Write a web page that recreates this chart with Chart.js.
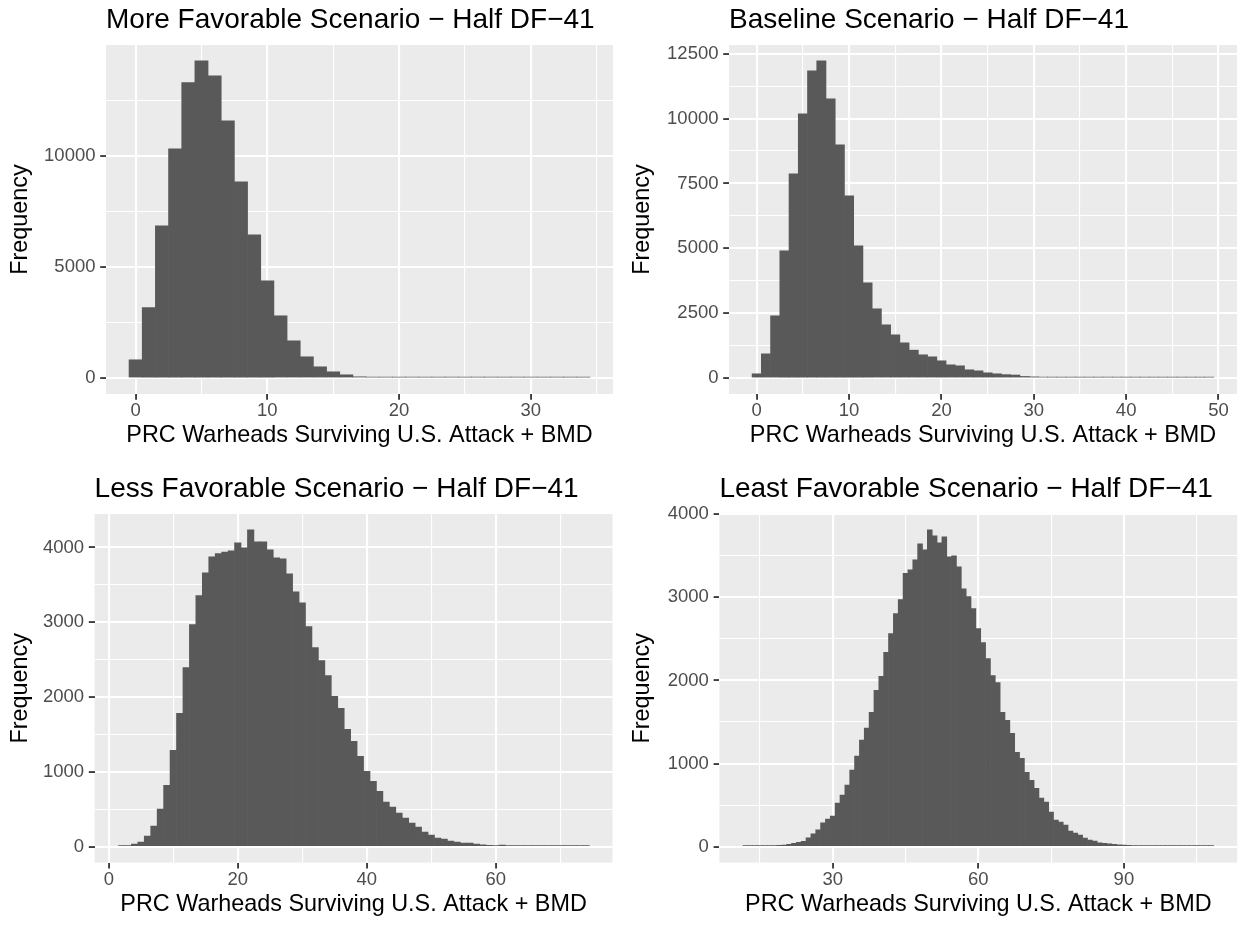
<!DOCTYPE html>
<html>
<head>
<meta charset="utf-8">
<script src="https://cdn.jsdelivr.net/npm/chart.js@4.4.1/dist/chart.umd.min.js"></script>
<style>
  html, body { margin: 0; padding: 0; background: #fff; }
  #wrap { position: relative; width: 1244px; height: 926px; }
  #wrap canvas { position: absolute; }
</style>
</head>
<body>
<div id="wrap">
  <canvas id="moreFav" width="622" height="463" style="left:0;top:0"></canvas>
  <canvas id="baseline" width="622" height="463" style="left:622px;top:0"></canvas>
  <canvas id="lessFav" width="622" height="457" style="left:0;top:469px"></canvas>
  <canvas id="leastFav" width="622" height="457" style="left:622px;top:469px"></canvas>
</div>
<script>
// histogram bins (warheads, bin centre) and counts
const binsMoreFav = [0,1,2,3,4,5,6,7,8,9,10,11,12,13,14,15,16,17,18,19,20,21,22,23,24,25,26,27,28,29,30,31,32,33,34];
const countsMoreFav = [825,3178,6852,10315,13298,14273,13598,11574,8831,6447,4378,2804,1679,960,510,285,150,60,30,20,
  12,8,6,5,4,3,2,2,1,1,1,1,1,1,1];

const binsBaseline = [0,1,2,3,4,5,6,7,8,9,10,11,12,13,14,15,16,17,18,19,20,21,22,23,24,25,26,27,28,29,30,31,32,33,34,
  35,36,37,38,39,40,41,42,43,44,45,46,47,48,49];
const countsBaseline = [167,937,2401,4905,7871,10182,11839,12224,10760,8988,7023,5098,3672,2671,2054,1669,1361,1079,899,822,
  668,514,475,321,282,205,167,135,120,65,50,40,28,22,17,13,10,8,6,5,4,3,3,2,2,1,1,1,1,1];

const binsLessFav = [2,3,4,5,6,7,8,9,10,11,12,13,14,15,16,17,18,19,20,21,22,23,24,25,26,27,28,29,30,31,32,33,34,35,36,37,
  38,39,40,41,42,43,44,45,46,47,48,49,50,51,52,53,54,55,56,57,58,59,60,61,62,63,64,65,66,67,68,69,70,71,72,73,74];
const countsLessFav = [8,10,36,62,142,276,502,822,1289,1782,2396,2969,3356,3662,3876,3920,3940,3956,4062,3996,
  4236,4076,4076,3969,3862,3849,3649,3409,3262,2942,2662,2489,2289,2009,1849,1569,1409,1209,1009,876,
  742,596,529,449,383,316,262,196,156,116,102,76,62,50,48,36,24,20,9,22,5,4,4,3,3,2,2,2,1,1,1,1,1];

const binsLeastFav = [12,13,14,15,16,17,18,19,20,21,22,23,24,25,26,27,28,29,30,31,32,33,34,35,36,37,38,39,40,41,42,43,44,45,
  46,47,48,49,50,51,52,53,54,55,56,57,58,59,60,61,62,63,64,65,66,67,68,69,70,71,72,73,74,75,76,77,78,79,80,81,82,83,84,85,
  86,87,88,89,90,91,92,93,94,95,96,97,98,99,100,101,102,103,104,105,106,107,108];
const countsLeastFav = [1,2,4,5,7,9,12,16,20,28,40,52,64,106,154,202,286,334,370,526,
  622,742,922,1090,1282,1426,1618,1882,2050,2338,2564,2804,2972,3290,3330,3452,3644,3572,3812,3740,
  3656,3728,3488,3500,3368,3104,3008,2864,2624,2456,2264,2060,1976,1616,1520,1364,1136,1064,896,800,
  704,584,536,416,320,296,260,188,164,140,104,80,68,46,42,34,30,22,20,18,12,10,8,7,6,5,4,3,3,2,2,1,1,1,1,1,1];

// axis ticks (labelled) and minor grid positions
const xTicksMoreFav = [0, 10, 20, 30];
const xMinorMoreFav = [5, 15, 25, 35];
const yTicksMoreFav = [0, 5000, 10000];
const yMinorMoreFav = [2500, 7500, 12500];

const xTicksBaseline = [0, 10, 20, 30, 40, 50];
const xMinorBaseline = [5, 15, 25, 35, 45];
const yTicksBaseline = [0, 2500, 5000, 7500, 10000, 12500];
const yMinorBaseline = [1250, 3750, 6250, 8750, 11250];

const xTicksLessFav = [0, 20, 40, 60];
const xMinorLessFav = [10, 30, 50, 70];
const yTicksLessFav = [0, 1000, 2000, 3000, 4000];
const yMinorLessFav = [500, 1500, 2500, 3500];

const xTicksLeastFav = [30, 60, 90];
const xMinorLeastFav = [15, 45, 75, 105];
const yTicksLeastFav = [0, 1000, 2000, 3000, 4000];
const yMinorLeastFav = [500, 1500, 2500, 3500];

const xLabel = 'PRC Warheads Surviving U.S. Attack + BMD';
const yLabel = 'Frequency';

Chart.defaults.font.family = '"Liberation Sans", Arial, Helvetica, sans-serif';

// grey ggplot panel behind the grid
const panelBg = {
  id: 'panelBg',
  beforeDraw(chart) {
    const { ctx, chartArea: a } = chart;
    ctx.save();
    ctx.fillStyle = '#EBEBEB';
    ctx.fillRect(a.left, a.top, a.right - a.left, a.bottom - a.top);
    ctx.restore();
  }
};

function makePanel(id, p) {
  const xMaj = v => p.xTicks.includes(v);
  const yMaj = v => p.yTicks.includes(v);
  const canvas = document.getElementById(id);
  const H = canvas.height;

  const tickSet = (major, minor) => s => {
    s.ticks = major.concat(minor).sort((a, b) => a - b).map(v => ({ value: v }));
  };

  new Chart(canvas, {
    type: 'bar',
    data: {
      datasets: [{
        data: p.bins.map((b, i) => ({ x: b, y: p.counts[i] })),
        backgroundColor: '#595959',
        borderWidth: 0,
        barPercentage: 1,
        categoryPercentage: 1,
        minBarLength: 1
      }]
    },
    options: {
      responsive: false,
      animation: false,
      devicePixelRatio: 1,
      layout: { padding: { left: 0, right: canvas.width - p.right, top: 0, bottom: 0 } },
      plugins: {
        legend: { display: false },
        tooltip: { enabled: false },
        title: {
          display: true,
          text: p.title,
          align: 'start',
          fullSize: false,
          color: '#000',
          font: { size: 28, weight: 'normal' },
          padding: { top: 3.2, bottom: 8.2 }
        }
      },
      scales: {
        x: {
          type: 'linear',
          min: p.xMin,
          max: p.xMax,
          bounds: 'data',
          offset: false,
          afterBuildTicks: tickSet(p.xTicks, p.xMinor),
          afterFit: s => { s.height = H - p.bottom; },
          ticks: {
            autoSkip: false,
            maxRotation: 0,
            padding: 0,
            color: '#4D4D4D',
            font: { size: 18.5 },
            callback: v => xMaj(v) ? String(v) : ''
          },
          grid: {
            offset: false,
            color: '#FFFFFF',
            lineWidth: c => (c.tick && xMaj(c.tick.value)) ? 2.1 : 1.1,
            tickLength: 5.8,
            tickWidth: 1.8,
            tickColor: c => (c.tick && xMaj(c.tick.value)) ? '#333333' : 'rgba(0,0,0,0)'
          },
          border: { display: false },
          title: {
            display: true,
            text: xLabel,
            color: '#000',
            font: { size: 23.4 },
            padding: { top: 0, bottom: H - 14 - 436 }
          }
        },
        y: {
          type: 'linear',
          min: p.yMin,
          max: p.yMax,
          bounds: 'data',
          afterBuildTicks: tickSet(p.yTicks, p.yMinor),
          afterFit: s => { s.width = p.left; },
          ticks: {
            autoSkip: false,
            padding: 4.7,
            color: '#4D4D4D',
            font: { size: 18.5 },
            callback: v => yMaj(v) ? String(v) : ''
          },
          grid: {
            color: '#FFFFFF',
            lineWidth: c => (c.tick && yMaj(c.tick.value)) ? 2.1 : 1.1,
            tickLength: 5.8,
            tickWidth: 1.8,
            tickColor: c => (c.tick && yMaj(c.tick.value)) ? '#333333' : 'rgba(0,0,0,0)'
          },
          border: { display: false },
          title: {
            display: true,
            text: yLabel,
            color: '#000',
            font: { size: 23.4 },
            padding: { top: 7, bottom: 0 }
          }
        }
      }
    },
    plugins: [panelBg]
  });
}

makePanel('moreFav', {
  title: 'More Favorable Scenario \u2212 Half DF\u221241',
  bins: binsMoreFav, counts: countsMoreFav,
  xTicks: xTicksMoreFav, xMinor: xMinorMoreFav, yTicks: yTicksMoreFav, yMinor: yMinorMoreFav,
  xMin: -2.25, xMax: 36.25, yMin: -714, yMax: 14987,
  left: 106, right: 613, bottom: 394
});

makePanel('baseline', {
  title: 'Baseline Scenario \u2212 Half DF\u221241',
  bins: binsBaseline, counts: countsBaseline,
  xTicks: xTicksBaseline, xMinor: xMinorBaseline, yTicks: yTicksBaseline, yMinor: yMinorBaseline,
  xMin: -3, xMax: 52, yMin: -611, yMax: 12835,
  left: 107, right: 615, bottom: 394
});

makePanel('lessFav', {
  title: 'Less Favorable Scenario \u2212 Half DF\u221241',
  bins: binsLessFav, counts: countsLessFav,
  xTicks: xTicksLessFav, xMinor: xMinorLessFav, yTicks: yTicksLessFav, yMinor: yMinorLessFav,
  xMin: -2.2, xMax: 78.1, yMin: -212, yMax: 4448,
  left: 94.6, right: 612.5, bottom: 393.6
});

makePanel('leastFav', {
  title: 'Least Favorable Scenario \u2212 Half DF\u221241',
  bins: binsLeastFav, counts: countsLeastFav,
  xTicks: xTicksLeastFav, xMinor: xMinorLeastFav, yTicks: yTicksLeastFav, yMinor: yMinorLeastFav,
  xMin: 6.65, xMax: 113.35, yMin: -191, yMax: 4003,
  left: 97.4, right: 615.2, bottom: 393.6
});
</script>
</body>
</html>
